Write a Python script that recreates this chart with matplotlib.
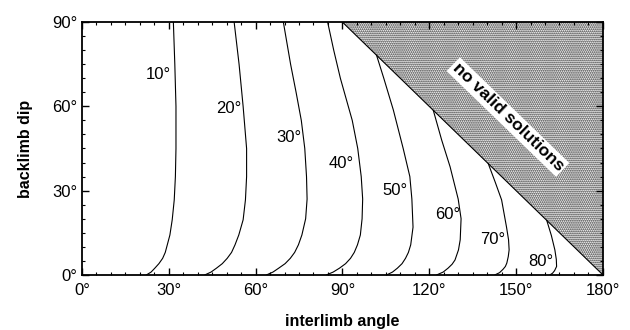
import matplotlib.pyplot as plt
from matplotlib.ticker import MultipleLocator, FuncFormatter

plt.rcParams['font.family'] = ['Liberation Sans', 'DejaVu Sans']
plt.rcParams['hatch.linewidth'] = 0.9

# curves: backlimb dip (y) vs interlimb angle (x), one per label
labels = ['10°', '20°', '30°', '40°', '50°', '60°', '70°', '80°']

dip_10 = [0, 1, 2.4, 4, 5.9, 8, 10.7, 14.2, 19.6, 26.7, 35, 45, 60, 75, 90]
ang_10 = [22.3, 23.9, 25.2, 26.6, 27.9, 28.8, 29.5, 30.4, 31.2, 31.9, 32.3, 32.5, 32.5, 32.1, 31.6]

dip_20 = [0, 1, 2.4, 4, 5.9, 8, 10.7, 14.2, 19.6, 26.7, 35, 45, 60, 75, 90]
ang_20 = [42.5, 44.6, 46.5, 48.5, 50.2, 51.7, 52.9, 54.2, 55.7, 56.5, 56.9, 56.9, 55.7, 54.3, 52.6]

dip_30 = [0, 1, 2.4, 4, 5.9, 8, 10.7, 14.2, 20, 27, 35, 45, 55, 65, 75, 90]
ang_30 = [63.8, 66, 68, 70.2, 72, 73.5, 74.8, 76, 77.3, 77.8, 77.6, 77, 75.8, 74, 72.1, 69.6]

dip_40 = [0, 1, 2.4, 4, 5.9, 8, 10.7, 14.2, 20, 27, 35, 45, 55, 70, 80, 90]
ang_40 = [84.5, 86.8, 89, 91.1, 92.8, 94.1, 95.2, 96.2, 96.8, 97, 96.5, 95.3, 93.4, 89.3, 87, 84.9]

dip_50 = [0, 1, 2.4, 4, 5.9, 8, 10.7, 17, 27, 35, 45, 58.7, 70, 78.2]
ang_50 = [105.3, 107.3, 109, 110.6, 111.8, 112.8, 113.6, 114.4, 114, 113.3, 111, 107.6, 104.3, 101.8]

dip_60 = [0, 1, 2.4, 3.8, 5.3, 8.9, 12.5, 20, 27, 38.5, 48, 58.6]
ang_60 = [122.6, 124.8, 126.5, 127.9, 128.9, 130.1, 130.7, 131, 130, 127.2, 124.3, 121.4]

dip_70 = [0, 0.8, 2, 3, 4.2, 6.5, 8.9, 12.5, 17, 26.7, 33, 39.6]
ang_70 = [142.7, 144.3, 145.5, 146.3, 146.8, 147.3, 147.6, 147.4, 146.7, 145, 142.8, 140.4]

dip_80 = [0, 0.6, 1.5, 3, 5.5, 8.9, 14, 19.4]
ang_80 = [161.7, 162.6, 163.3, 164, 163.9, 163.4, 162.2, 160.6]

curves = [(ang_10, dip_10), (ang_20, dip_20), (ang_30, dip_30), (ang_40, dip_40),
          (ang_50, dip_50), (ang_60, dip_60), (ang_70, dip_70), (ang_80, dip_80)]

# where each label sits (angle, dip)
label_x = [26.3, 50.6, 71.5, 89.7, 108.2, 126.3, 141.8, 158.5]
label_y = [71.5, 59.1, 48.9, 39.7, 30.2, 21.4, 12.5, 4.8]

# no valid solutions region
region_x = [90, 180, 180]
region_y = [90, 90, 0]

fig = plt.figure(figsize=(6.3, 3.3), dpi=100)
ax = fig.add_axes([0.130, 0.167, 0.827, 0.766])

ax.fill(region_x, region_y, facecolor='white', edgecolor='#222222',
        hatch='........', linewidth=0)
ax.plot([90, 180], [90, 0], color='black', linewidth=0.8)

for (xs, ys), lab, lx, ly in zip(curves, labels, label_x, label_y):
    ax.plot(xs, ys, color='black', linewidth=0.8)
    ax.text(lx, ly, lab, fontsize=12, ha='center', va='center')

ax.text(147.2, 56.2, 'no valid solutions', fontsize=12.5, fontweight='bold',
        rotation=-44, ha='center', va='center', rotation_mode='anchor',
        bbox=dict(facecolor='white', edgecolor='none', pad=1.5))

ax.set_xlim(0, 180)
ax.set_ylim(0, 90)
ax.xaxis.set_major_locator(MultipleLocator(30))
ax.xaxis.set_minor_locator(MultipleLocator(5))
ax.yaxis.set_major_locator(MultipleLocator(30))
ax.yaxis.set_minor_locator(MultipleLocator(5))
deg = FuncFormatter(lambda v, p: '{:d}°'.format(int(round(v))))
ax.xaxis.set_major_formatter(deg)
ax.yaxis.set_major_formatter(deg)
ax.tick_params(which='both', direction='in', top=True, right=True, labelsize=12)
ax.tick_params(which='major', length=5, width=1)
ax.tick_params(which='minor', length=2.5, width=0.8)
ax.tick_params(axis='x', pad=6)
ax.tick_params(axis='y', pad=3)
for s in ax.spines.values():
    s.set_linewidth(1.3)

ax.set_xlabel('interlimb angle', fontsize=11.5, fontweight='bold', labelpad=11)
ax.set_ylabel('backlimb dip', fontsize=11.5, fontweight='bold', labelpad=14)

fig.savefig('out.png', dpi=100)
